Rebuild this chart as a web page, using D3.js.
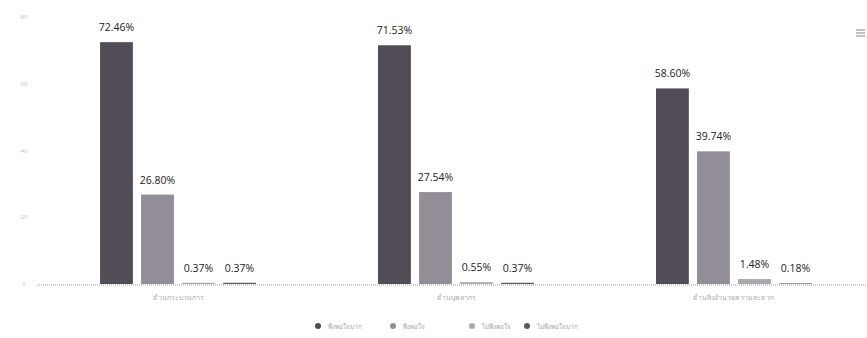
<!DOCTYPE html>
<html><head><meta charset="utf-8">
<script src="https://cdn.jsdelivr.net/npm/d3@7/dist/d3.min.js"></script>
<style>body{margin:0;background:#fff}svg{display:block}</style>
</head><body>
<svg id="c" width="867" height="338"></svg>
<script>
const categories = ["ด้านกระบวนการ", "ด้านบุคลากร", "ด้านสิ่งอำนวยความสะดวก"];
const seriesNames = ["พึงพอใจมาก", "พึงพอใจ", "ไม่พึงพอใจ", "ไม่พึงพอใจมาก"];
const veryHigh = [72.46, 71.53, 58.60];
const high = [26.80, 27.54, 39.74];
const low = [0.37, 0.55, 1.48];
const veryLow = [0.37, 0.37, 0.18];
const yTicks = [0, 20, 40, 60, 80];
const colors = ["#524c57", "#928d97", "#aca7b0", "#5c5762"];

const series = [veryHigh, high, low, veryLow];
const svg = d3.select("#c");
const font = "'Open Sans', sans-serif";

const y = d3.scaleLinear().domain([0, 80]).range([284, 17]);
const x0 = d3.scaleBand().domain(categories).range([35, 877]).paddingInner(0.439).paddingOuter(0.234);
const x1 = d3.scaleBand().domain(d3.range(4)).range([0, x0.bandwidth()]).paddingInner(0.2);

// y axis labels
svg.append("g").selectAll("text").data(yTicks).join("text")
  .attr("x", 24).attr("y", d => y(d) + 2).attr("text-anchor", "middle")
  .attr("font-family", font).attr("font-size", 6).attr("fill", "#bbb").text(d => d);

// baseline
svg.append("line").attr("x1", 37).attr("x2", 867).attr("y1", y(0) + 1).attr("y2", y(0) + 1)
  .attr("stroke", "#999").attr("stroke-width", 1).attr("stroke-dasharray", "1,1");

// bars
const g = svg.append("g");
categories.forEach((c, ci) => {
  series.forEach((s, si) => {
    const bx = x0(c) + x1(si);
    const v = s[ci];
    g.append("rect").attr("x", bx).attr("y", y(v)).attr("width", x1.bandwidth())
      .attr("height", y(0) - y(v)).attr("fill", colors[si]);
    g.append("text").attr("x", bx + x1.bandwidth() / 2).attr("y", y(v) - 11)
      .attr("text-anchor", "middle").attr("font-family", font).attr("font-size", 10.5)
      .attr("fill", "#222").text(v.toFixed(2) + "%");
  });
  svg.append("text").attr("x", x0(c) + x0.bandwidth() / 2).attr("y", 300)
    .attr("text-anchor", "middle").attr("font-family", font).attr("font-size", 7)
    .attr("fill", "#aaa").text(c);
});

// legend
const legendX = [318, 393, 472, 527];
seriesNames.forEach((n, i) => {
  svg.append("circle").attr("cx", legendX[i]).attr("cy", 326).attr("r", 3).attr("fill", colors[i]);
  svg.append("text").attr("x", legendX[i] + 10).attr("y", 328.5).attr("font-family", font)
    .attr("font-size", 6.5).attr("fill", "#aaa").text(n);
});

// menu icon
[30, 33, 36].forEach(yy => {
  svg.append("line").attr("x1", 856).attr("x2", 865).attr("y1", yy).attr("y2", yy)
    .attr("stroke", "#999").attr("stroke-width", 1.2);
});
</script>
</body></html>
